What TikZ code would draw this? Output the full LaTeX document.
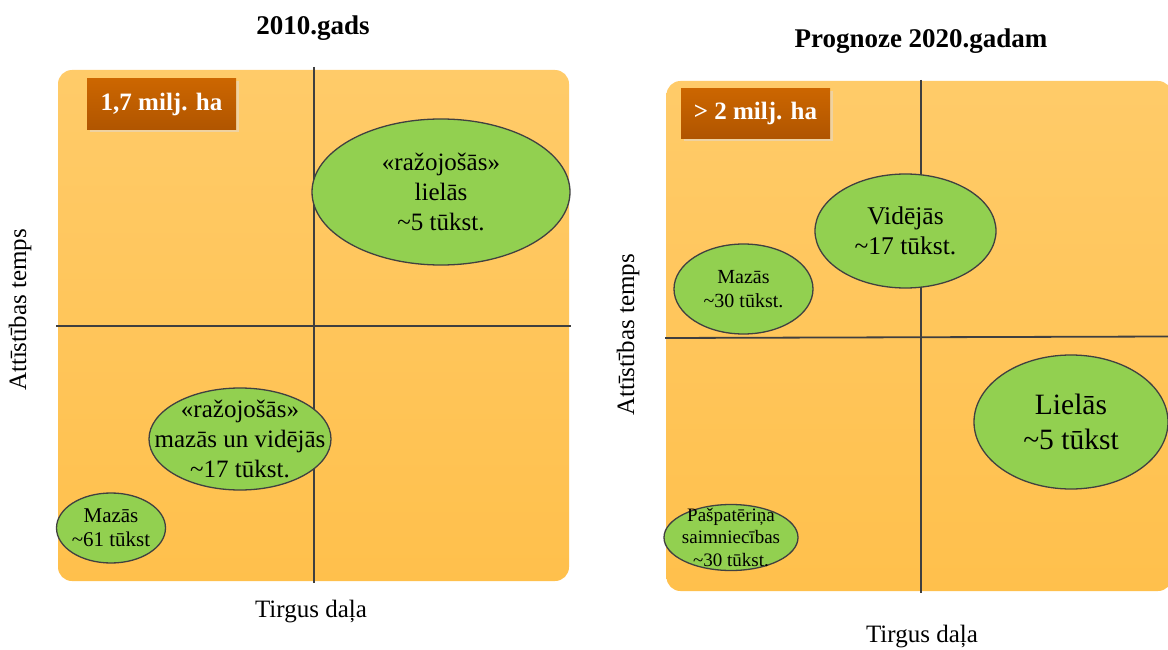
\documentclass[tikz,border=0pt]{standalone}
\usepackage{fontspec}
\setmainfont{Liberation Serif}
\newfontfamily\tnr{Liberation Serif}
\usetikzlibrary{shapes.geometric}
\definecolor{panelTop}{HTML}{FFCB69}
\definecolor{panelBot}{HTML}{FFC04C}
\definecolor{axisgray}{HTML}{3F3F3F}
\definecolor{blobgreen}{HTML}{92D050}
\definecolor{blobline}{HTML}{404040}
\definecolor{badgeTop}{HTML}{CC6600}
\definecolor{badgeBot}{HTML}{B05500}
\definecolor{shadowc}{HTML}{EFD2A0}
\begin{document}
\begin{tikzpicture}[x=1pt,y=-1pt,
  panel/.style={rounded corners=14pt, top color=panelTop, bottom color=panelBot, draw=none},
  axisline/.style={draw=axisgray, line width=1.8pt},
  blob/.style={ellipse, draw=blobline, fill=blobgreen, line width=1.3pt, inner sep=0pt},
  txt/.style={align=center, inner sep=0pt, text=black},
  badge/.style={rectangle, top color=badgeTop, bottom color=badgeBot, draw=none, inner sep=0pt,
     text=white, font=\tnr\bfseries\fontsize{25}{30}\selectfont},
  badgeshadow/.style={rectangle, fill=shadowc, draw=none, inner sep=0pt},
  title/.style={font=\tnr\bfseries\fontsize{27}{30}\selectfont, anchor=base, inner sep=0pt},
  axlabel/.style={font=\tnr\fontsize{25}{30}\selectfont, inner sep=0pt}
]
\useasboundingbox (0,0) rectangle (1168,650);
\fill[white] (0,0) rectangle (1168,650);

% ---------------- Left panel (2010) ----------------
\node[title] (titleL) at (313,35) {2010.gads};
\path[panel] (58,70) rectangle (569,581);
\coordinate (vLt) at (314,67);
\coordinate (vLb) at (314,583);
\coordinate (hLl) at (56,326);
\coordinate (hLr) at (571,326);
\draw[axisline] (vLt) -- (vLb);
\draw[axisline] (hLl) -- (hLr);

\node[badgeshadow, minimum width=149pt, minimum height=51pt] (shL) at (164,107) {};
\node[badge, minimum width=149pt, minimum height=51pt] (badgeL) at (161.5,104.5) {1,7 milj. ha};

\node[blob, minimum width=258pt, minimum height=146pt] (bigL) at (441,192) {};
\node[txt, font=\tnr\fontsize{25}{30}\selectfont] (bigLt) at (bigL.center) {«ražojošās»\\lielās\\\textasciitilde5 tūkst.};

\node[blob, minimum width=182pt, minimum height=102pt] (midL) at (240,439) {};
\node[txt, font=\tnr\fontsize{25}{30}\selectfont] (midLt) at (midL.center) {«ražojošās»\\mazās un vidējās\\\textasciitilde17 tūkst.};

\node[blob, minimum width=109pt, minimum height=70pt] (smallL) at (111,528) {};
\node[txt, font=\tnr\fontsize{21}{24}\selectfont] (smallLt) at (smallL.center) {Mazās\\\textasciitilde61 tūkst};

\node[axlabel] (xlabL) at (311,612) {Tirgus daļa};
\node[axlabel, rotate=90] (ylabL) at (20,310) {Attīstības temps};

% ---------------- Right panel (2020) ----------------
\node[title] (titleR) at (921,48) {Prognoze 2020.gadam};
\path[panel] (666.5,81) rectangle (1172,591);
\coordinate (vRt) at (921,80);
\coordinate (vRb) at (921,593);
\coordinate (hRl) at (665,338);
\coordinate (hRr) at (1168,336.5);
\draw[axisline] (vRt) -- (vRb);
\draw[axisline] (hRl) -- (hRr);

\node[badgeshadow, minimum width=149pt, minimum height=50pt] (shR) at (758,116) {};
\node[badge, minimum width=149pt, minimum height=50pt] (badgeR) at (755.5,113.3) {> 2 milj. ha};

\node[blob, minimum width=181pt, minimum height=114pt] (vidR) at (905.5,231) {};
\node[txt, font=\tnr\fontsize{25.5}{30}\selectfont] (vidRt) at (vidR.center) {Vidējās\\\textasciitilde17 tūkst.};

\node[blob, minimum width=139pt, minimum height=90pt] (mazR) at (743.5,289) {};
\node[txt, font=\tnr\fontsize{20}{24}\selectfont] (mazRt) at (mazR.center) {Mazās\\\textasciitilde30 tūkst.};

\node[blob, minimum width=194pt, minimum height=134pt] (lielR) at (1071,422) {};
\node[txt, font=\tnr\fontsize{29.5}{35}\selectfont] (lielRt) at (lielR.center) {Lielās\\\textasciitilde5 tūkst};

\node[blob, minimum width=134pt, minimum height=66pt] (pasR) at (731,537.5) {};
\node[txt, font=\tnr\fontsize{19}{22.5}\selectfont] (pasRt) at (pasR.center) {Pašpatēriņa\\saimniecības\\\textasciitilde30 tūkst.};

\node[axlabel] (xlabR) at (922,637) {Tirgus daļa};
\node[axlabel, rotate=90] (ylabR) at (628,335) {Attīstības temps};
\end{tikzpicture}
\end{document}
